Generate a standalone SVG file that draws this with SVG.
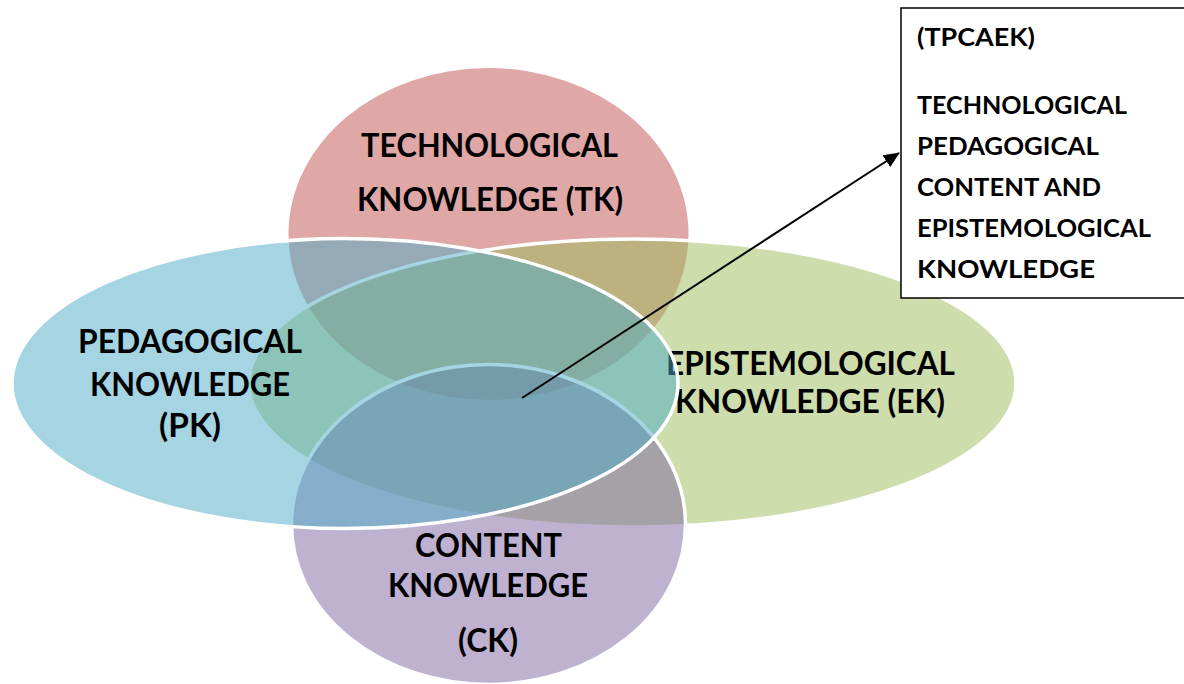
<svg xmlns="http://www.w3.org/2000/svg" width="1184" height="684" viewBox="0 0 1184 684">
  <style>
    .lbl { font-family: Lato, "Liberation Sans", sans-serif; font-weight: 700; font-size: 32px; fill: #000; text-anchor: middle; }
    .box { font-family: Lato, "Liberation Sans", sans-serif; font-weight: 700; font-size: 25px; fill: #000; }
    .edge { stroke: #fff; stroke-width: 3.5; }
  </style>
  <defs>
    <marker id="arr" markerUnits="userSpaceOnUse" markerWidth="16" markerHeight="14" viewBox="0 0 16 14" refX="15" refY="7" orient="auto">
      <path d="M0,0 L16,7 L0,14 Z" fill="#000"/>
    </marker>
  </defs>
  <rect width="1184" height="684" fill="#fff"/>

  <g id="tk">
    <ellipse cx="488.5" cy="234" rx="200" ry="166" fill="#C0504D" fill-opacity="0.5"/>
    <text class="lbl" x="489.5" y="157" textLength="257" lengthAdjust="spacingAndGlyphs">TECHNOLOGICAL</text>
    <text class="lbl" x="490" y="211" textLength="266" lengthAdjust="spacingAndGlyphs">KNOWLEDGE (TK)</text>
  </g>

  <g id="ek">
    <ellipse class="edge" cx="632.5" cy="383" rx="383.5" ry="144" fill="#9BBB59" fill-opacity="0.5"/>
    <text class="lbl" x="810.5" y="375" textLength="289" lengthAdjust="spacingAndGlyphs">EPISTEMOLOGICAL</text>
    <text class="lbl" x="810" y="413" textLength="270" lengthAdjust="spacingAndGlyphs">KNOWLEDGE (EK)</text>
  </g>

  <g id="ck">
    <ellipse class="edge" cx="488.5" cy="524.5" rx="197" ry="160" fill="#8064A2" fill-opacity="0.5"/>
    <text class="lbl" x="488.5" y="557" textLength="147" lengthAdjust="spacingAndGlyphs">CONTENT</text>
    <text class="lbl" x="488" y="597" textLength="200" lengthAdjust="spacingAndGlyphs">KNOWLEDGE</text>
    <text class="lbl" x="488" y="652" textLength="60" lengthAdjust="spacingAndGlyphs">(CK)</text>
  </g>

  <g id="pk">
    <ellipse class="edge" cx="345" cy="383.5" rx="333" ry="145" fill="#4BACC6" fill-opacity="0.5"/>
    <text class="lbl" x="190" y="353" textLength="224" lengthAdjust="spacingAndGlyphs">PEDAGOGICAL</text>
    <text class="lbl" x="190" y="396" textLength="200" lengthAdjust="spacingAndGlyphs">KNOWLEDGE</text>
    <text class="lbl" x="190" y="437" textLength="62" lengthAdjust="spacingAndGlyphs">(PK)</text>
  </g>

  <g id="connectors">
    <line x1="522" y1="398" x2="899" y2="153" stroke="#000" stroke-width="2" marker-end="url(#arr)"/>
  </g>

  <g id="tpcaek">
    <rect x="901" y="8" width="300" height="290" fill="#fff" stroke="#000" stroke-width="1.5"/>
    <text class="box" x="917" y="46" textLength="118" lengthAdjust="spacingAndGlyphs">(TPCAEK)</text>
    <text class="box" x="917" y="114" textLength="210" lengthAdjust="spacingAndGlyphs">TECHNOLOGICAL</text>
    <text class="box" x="917" y="155" textLength="182" lengthAdjust="spacingAndGlyphs">PEDAGOGICAL</text>
    <text class="box" x="917" y="196" textLength="184" lengthAdjust="spacingAndGlyphs">CONTENT AND</text>
    <text class="box" x="917" y="237" textLength="234" lengthAdjust="spacingAndGlyphs">EPISTEMOLOGICAL</text>
    <text class="box" x="917" y="278" textLength="178" lengthAdjust="spacingAndGlyphs">KNOWLEDGE</text>
  </g>
</svg>
